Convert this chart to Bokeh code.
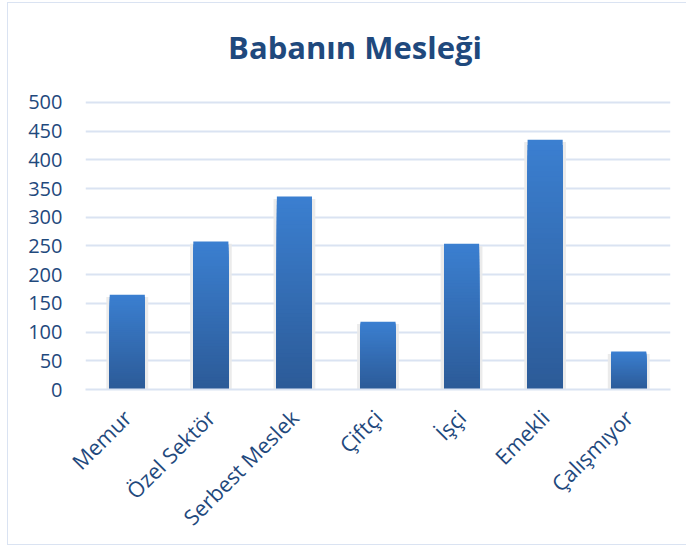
from bokeh.plotting import figure
from bokeh.models import Label, FixedTicker
from bokeh.embed import file_html
from bokeh.resources import INLINE
import math

categories = ["Memur", "Özel Sektör", "Serbest Meslek", "Çiftçi", "İşçi", "Emekli", "Çalışmıyor"]
values = [165, 258, 336, 118, 254, 435, 66]
y_ticks = [0, 50, 100, 150, 200, 250, 300, 350, 400, 450, 500]
title_text = "Babanın Mesleği"

TEXT = "#1f497d"
GRID = "#dae3f2"
TOP_RGB = (59, 127, 208)
BOT_RGB = (44, 91, 152)

# the frame is extended upward so the title sits inside it; grid/ticks stop at 500
p = figure(x_range=categories, y_range=(0, 655), width=679, height=543,
           output_backend="svg", toolbar_location=None,
           min_border_left=77, min_border_right=17, min_border_top=10, min_border_bottom=157)
p.styles = {"border-left": "1px solid #dae3f2", "border-bottom": "1px solid #dae3f2",
            "border-top": "1px solid #dae3f2", "margin-left": "7px", "margin-top": "2px"}
p.outline_line_color = None
p.background_fill_color = "white"
p.border_fill_color = "white"

# shadow behind bars
p.vbar(x=categories, top=[v - 4 for v in values], bottom=0, width=0.5,
       fill_color="#e9e9e9", line_color=None, fill_alpha=0.9)

# gradient bars: overlapping layers, tallest (light) first, shortest (dark) last
N = 48
for i in range(N):
    t = 1 - i / (N - 1)
    r = round(BOT_RGB[0] + (TOP_RGB[0] - BOT_RGB[0]) * t)
    g = round(BOT_RGB[1] + (TOP_RGB[1] - BOT_RGB[1]) * t)
    b = round(BOT_RGB[2] + (TOP_RGB[2] - BOT_RGB[2]) * t)
    col = "#%02x%02x%02x" % (r, g, b)
    p.vbar(x=categories, bottom=0, top=[v * (N - i) / N for v in values], width=0.42,
           fill_color=col, line_color=None)

# chart title
p.add_layout(Label(x=3.225, y=597.5, text=title_text,
                   text_align="center", text_baseline="alphabetic",
                   text_font="Open Sans", text_font_size="31px", text_font_style="bold",
                   text_color=TEXT))

p.xgrid.grid_line_color = None
p.ygrid.ticker = FixedTicker(ticks=y_ticks)
p.ygrid.grid_line_color = GRID
p.ygrid.grid_line_width = 2
p.ygrid.level = "underlay"

p.yaxis.ticker = FixedTicker(ticks=y_ticks)
p.yaxis.axis_line_color = None
p.yaxis.major_tick_line_color = None
p.yaxis.minor_tick_line_color = None
p.yaxis.major_tick_out = 0
p.yaxis.major_label_standoff = 23
p.yaxis.major_label_text_font = "Open Sans"
p.yaxis.major_label_text_font_size = "20px"
p.yaxis.major_label_text_color = TEXT

p.xaxis.axis_line_color = GRID
p.xaxis.axis_line_width = 2
p.xaxis.major_tick_line_color = None
p.xaxis.minor_tick_line_color = None
p.xaxis.major_tick_out = 0
p.xaxis.major_label_standoff = 24
p.xaxis.major_label_orientation = math.pi / 4
p.xaxis.major_label_text_font = "Open Sans"
p.xaxis.major_label_text_font_size = "21.5px"
p.xaxis.major_label_text_color = TEXT

open("out.html", "w").write(file_html(p, INLINE))
